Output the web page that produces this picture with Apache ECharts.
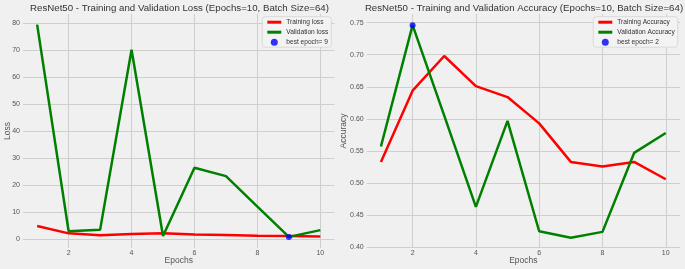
<!DOCTYPE html>
<html>
<head>
<meta charset="utf-8">
<script src="https://cdn.jsdelivr.net/npm/echarts@6/dist/echarts.min.js"></script>
<style>
html, body { margin: 0; padding: 0; background: #f0f0f0; }
#chart { width: 685px; height: 269px; }
</style>
</head>
<body>
<div id="chart"></div>
<script>
// data
var epochs = [1, 2, 3, 4, 5, 6, 7, 8, 9, 10];
var trainLoss = [4.9, 2.2, 1.5, 2.0, 2.2, 1.8, 1.6, 1.3, 1.2, 1.0];
var valLoss = [79.5, 3.0, 3.5, 70.2, 1.2, 26.5, 23.4, 12.1, 0.9, 3.4];
var trainAcc = [0.533, 0.644, 0.698, 0.651, 0.634, 0.593, 0.533, 0.526, 0.533, 0.506];
var valAcc = [0.557, 0.746, 0.605, 0.463, 0.597, 0.425, 0.415, 0.424, 0.547, 0.578];
var bestLossEpoch = 9;
var bestAccEpoch = 2;
var epochTicks = [2, 4, 6, 8, 10];
var lossTicks = [0, 10, 20, 30, 40, 50, 60, 70, 80];
var accTicks = [0.40, 0.45, 0.50, 0.55, 0.60, 0.65, 0.70, 0.75];

var FONT = 'Liberation Sans';
var GRID_COLOR = '#cfcfcf';
// thin bar for the line entries of the legend (moveTo points fix the box)
var LINE_ICON = 'path://M0,0 M0,2 L14,2 L14,5 L0,5 Z M14,7';

function pairs(xs, ys) {
	var out = [];
	for (var i = 0; i < xs.length; i++) out.push([xs[i], ys[i]]);
	return out;
}
// gridlines drawn as markLines, since the axis range does not start on a tick
function gridSeries(idx, ys, yTicks) {
	var lines = [];
	for (var i = 0; i < epochTicks.length; i++) lines.push({ xAxis: epochTicks[i] });
	for (var j = 0; j < yTicks.length; j++) lines.push({ yAxis: yTicks[j] });
	return {
		name: 'grid' + idx,
		type: 'line',
		xAxisIndex: idx,
		yAxisIndex: idx,
		data: pairs(epochs, ys),
		showSymbol: false,
		lineStyle: { opacity: 0 },
		z: 1,
		silent: true,
		markLine: {
			z: 1,
			silent: true,
			symbol: ['none', 'none'],
			label: { show: false },
			lineStyle: { color: GRID_COLOR, width: 1, type: 'solid' },
			emphasis: { disabled: true },
			data: lines
		}
	};
}
function lineSeries(name, idx, ys, color) {
	return {
		name: name,
		type: 'line',
		xAxisIndex: idx,
		yAxisIndex: idx,
		data: pairs(epochs, ys),
		showSymbol: false,
		symbol: 'none',
		z: 3,
		lineStyle: { color: color, width: 2.5 },
		itemStyle: { color: color }
	};
}
function bestSeries(name, idx, ep, ys) {
	return {
		name: name,
		type: 'scatter',
		xAxisIndex: idx,
		yAxisIndex: idx,
		data: [[ep, ys[ep - 1]]],
		symbolSize: 6,
		z: 4,
		itemStyle: { color: '#0000ff' }
	};
}
function xAxisOpt(idx) {
	return {
		type: 'value',
		gridIndex: idx,
		min: 0.55,
		max: 10.45,
		name: 'Epochs',
		nameLocation: 'middle',
		nameGap: 8,
		nameMoveOverlap: false,
		nameTextStyle: { fontFamily: FONT, fontSize: 8.5, color: '#555' },
		axisLine: { show: false },
		axisTick: { show: false },
		splitLine: { show: false },
		axisLabel: {
			customValues: epochTicks,
			fontFamily: FONT, fontSize: 7, color: '#555', margin: 2
		}
	};
}
function yAxisOpt(idx, name, mn, mx, ticks, fmt) {
	return {
		type: 'value',
		gridIndex: idx,
		min: mn,
		max: mx,
		name: name,
		nameLocation: 'middle',
		nameGap: idx === 0 ? 11 : 19,
		nameMoveOverlap: false,
		nameTextStyle: { fontFamily: FONT, fontSize: 8.5, color: '#555' },
		axisLine: { show: false },
		axisTick: { show: false },
		splitLine: { show: false },
		axisLabel: {
			customValues: ticks,
			formatter: fmt,
			fontFamily: FONT, fontSize: 7, color: '#555', margin: 3
		}
	};
}
function legendOpt(left, names) {
	return {
		left: left,
		top: 16.7,
		z: 6,
		orient: 'vertical',
		data: [
			{ name: names[0], icon: LINE_ICON },
			{ name: names[1], icon: LINE_ICON },
			{ name: names[2], icon: 'circle' }
		],
		padding: [1.5, 3, 1, 5],
		itemWidth: 14,
		itemHeight: 7,
		itemGap: 2,
		backgroundColor: '#f3f3f3',
		borderColor: '#d3d3d3',
		borderWidth: 0.8,
		borderRadius: 3,
		selectedMode: false,
		textStyle: { fontFamily: FONT, fontSize: 6.6, color: '#333', lineHeight: 8 }
	};
}

var myChart = echarts.init(document.getElementById('chart'), null, { renderer: 'canvas' });
var option = {
	animation: false,
	backgroundColor: '#f0f0f0',
	title: [{
		text: 'ResNet50 - Training and Validation Loss (Epochs=10, Batch Size=64)',
		left: 174.5, top: -2, textAlign: 'center',
		textStyle: { fontFamily: FONT, fontSize: 9.7, fontWeight: 'normal', color: '#333' }
	}, {
		text: 'ResNet50 - Training and Validation Accuracy (Epochs=10, Batch Size=64)',
		left: 519, top: -2, textAlign: 'center',
		textStyle: { fontFamily: FONT, fontSize: 9.7, fontWeight: 'normal', color: '#333' }
	}],
	legend: [
		legendOpt(262.3, ['Training loss', 'Validation loss', 'best epoch= ' + bestLossEpoch]),
		legendOpt(593.3, ['Training Accuracy', 'Validation Accuracy', 'best epoch= ' + bestAccEpoch])
	],
	grid: [
		{ left: 23, top: 14, width: 311.5, height: 234, outerBoundsMode: 'none' },
		{ left: 366.7, top: 14, width: 313.3, height: 234, outerBoundsMode: 'none' }
	],
	xAxis: [xAxisOpt(0), xAxisOpt(1)],
	yAxis: [
		yAxisOpt(0, 'Loss', -3.22, 83.45, lossTicks, function (v) { return String(Math.round(v)); }),
		yAxisOpt(1, 'Accuracy', 0.3989, 0.7634, accTicks, function (v) { return v.toFixed(2); })
	],
	series: [
		gridSeries(0, trainLoss, lossTicks),
		gridSeries(1, trainAcc, accTicks),
		lineSeries('Training loss', 0, trainLoss, '#ff0000'),
		lineSeries('Validation loss', 0, valLoss, '#008000'),
		bestSeries('best epoch= ' + bestLossEpoch, 0, bestLossEpoch, valLoss),
		lineSeries('Training Accuracy', 1, trainAcc, '#ff0000'),
		lineSeries('Validation Accuracy', 1, valAcc, '#008000'),
		bestSeries('best epoch= ' + bestAccEpoch, 1, bestAccEpoch, valAcc)
	]
};
myChart.setOption(option);
window.onresize = myChart.resize;
</script>
</body>
</html>
